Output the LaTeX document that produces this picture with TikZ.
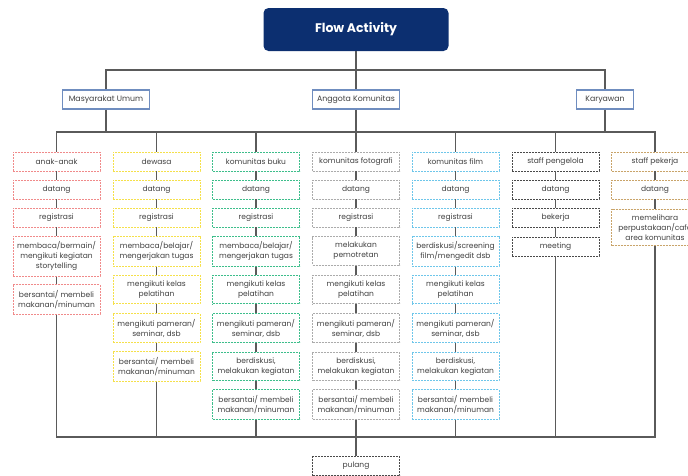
\documentclass[tikz,border=0pt]{standalone}
\usepackage{fontspec}
\setmainfont{Poppins}
\definecolor{navy}{HTML}{0C2F70}
\definecolor{grpb}{HTML}{6F8DBF}
\definecolor{lineg}{HTML}{5A5A5A}
\definecolor{txt}{HTML}{404040}
\definecolor{redd}{HTML}{F08A8A}
\definecolor{yel}{HTML}{F5E04A}
\definecolor{grn}{HTML}{3DBE8B}
\definecolor{gry}{HTML}{ABABAB}
\definecolor{blu}{HTML}{6EC6EA}
\definecolor{drk}{HTML}{4A4A4A}
\definecolor{tan}{HTML}{C9A46A}
\begin{document}
\begin{tikzpicture}[x=1pt,y=-1pt]
\tikzset{st/.style={rectangle,fill=white,line width=0.9pt,dash pattern=on 2pt off 1pt,minimum width=87pt,minimum height=19pt,inner xsep=1pt,inner ysep=5.5pt,align=center,text=txt,font=\fontsize{7.5}{10}\selectfont},
grp/.style={rectangle,draw=grpb,line width=1.2pt,fill=white,minimum width=87pt,minimum height=19pt,inner ysep=2pt,text=txt,font=\fontsize{7.8}{9}\selectfont},
ln/.style={draw=lineg,line width=1.2pt}}
\useasboundingbox (0,0) rectangle (688,475);
\clip (0,0) rectangle (688,475);
% top
\node (head) at (356,29.5) [rectangle,rounded corners=5pt,fill=navy,minimum width=185pt,minimum height=43pt,text=white,font=\fontsize{12.5}{14}\selectfont\bfseries] {Flow Activity};
\node (mu) at (106,99.5) [grp] {Masyarakat Umum};
\node (ak) at (356,99.5) [grp] {Anggota Komunitas};
\node (kw) at (605,99.5) [grp,minimum width=57pt] {Karyawan};
% masyarakat umum
\node (a1) at (56.5,161.5) [st,draw=redd] {anak-anak};
\node (a2) at (56.5,189.5) [st,draw=redd] {datang};
\node (a3) at (56.5,217.5) [st,draw=redd] {registrasi};
\node (a4) at (56.5,256) [st,draw=redd] {membaca/bermain/\\mengikuti kegiatan\\storytelling};
\node (a5) at (56.5,299.5) [st,draw=redd] {bersantai/ membeli\\makanan/minuman};
\node (b1) at (156.5,161.5) [st,draw=yel] {dewasa};
\node (b2) at (156.5,189.5) [st,draw=yel] {datang};
\node (b3) at (156.5,217.5) [st,draw=yel] {registrasi};
\node (b4) at (156.5,251) [st,draw=yel] {membaca/belajar/\\mengerjakan tugas};
\node (b5) at (156.5,289.5) [st,draw=yel] {mengikuti kelas\\pelatihan};
\node (b6) at (156.5,328) [st,draw=yel] {mengikuti pameran/\\seminar, dsb};
\node (b7) at (156.5,366.5) [st,draw=yel] {bersantai/ membeli\\makanan/minuman};
% anggota komunitas
\node (c1) at (256,161.5) [st,draw=grn] {komunitas buku};
\node (c2) at (256,189.5) [st,draw=grn] {datang};
\node (c3) at (256,217.5) [st,draw=grn] {registrasi};
\node (c4) at (256,251) [st,draw=grn] {membaca/belajar/\\mengerjakan tugas};
\node (c5) at (256,289.5) [st,draw=grn] {mengikuti kelas\\pelatihan};
\node (c6) at (256,328) [st,draw=grn] {mengikuti pameran/\\seminar, dsb};
\node (c7) at (256,366.5) [st,draw=grn] {berdiskusi,\\melakukan kegiatan};
\node (c8) at (256,404.5) [st,draw=grn] {bersantai/ membeli\\makanan/minuman};
\node (d1) at (356,161.5) [st,draw=gry] {komunitas fotografi};
\node (d2) at (356,189.5) [st,draw=gry] {datang};
\node (d3) at (356,217.5) [st,draw=gry] {registrasi};
\node (d4) at (356,251) [st,draw=gry] {melakukan\\pemotretan};
\node (d5) at (356,289.5) [st,draw=gry] {mengikuti kelas\\pelatihan};
\node (d6) at (356,328) [st,draw=gry] {mengikuti pameran/\\seminar, dsb};
\node (d7) at (356,366.5) [st,draw=gry] {berdiskusi,\\melakukan kegiatan};
\node (d8) at (356,404.5) [st,draw=gry] {bersantai/ membeli\\makanan/minuman};
\node (e1) at (455.5,161.5) [st,draw=blu] {komunitas film};
\node (e2) at (455.5,189.5) [st,draw=blu] {datang};
\node (e3) at (455.5,217.5) [st,draw=blu] {registrasi};
\node (e4) at (455.5,251) [st,draw=blu] {berdiskusi/screening\\film/mengedit dsb};
\node (e5) at (455.5,289.5) [st,draw=blu] {mengikuti kelas\\pelatihan};
\node (e6) at (455.5,328) [st,draw=blu] {mengikuti pameran/\\seminar, dsb};
\node (e7) at (455.5,366.5) [st,draw=blu] {berdiskusi,\\melakukan kegiatan};
\node (e8) at (455.5,404.5) [st,draw=blu] {bersantai/ membeli\\makanan/minuman};
% karyawan
\node (f1) at (555.5,161.5) [st,draw=drk] {staff pengelola};
\node (f2) at (555.5,189.5) [st,draw=drk] {datang};
\node (f3) at (555.5,217.5) [st,draw=drk] {bekerja};
\node (f4) at (555.5,246.5) [st,draw=drk] {meeting};
\node (g1) at (655,161.5) [st,draw=tan] {staff pekerja};
\node (g2) at (655,189.5) [st,draw=tan] {datang};
\node (g3) at (655,227.5) [st,draw=tan] {memelihara\\perpustakaan/cafe\\area komunitas};
\node (pul) at (356,466) [st,draw=drk] {pulang};
% lines
\coordinate (t) at (356,70);
\coordinate (m) at (356,132);
\coordinate (l) at (356,437);
\draw[ln] (head) -- (ak) -- (m);
\draw[ln] (mu) |- (t) -| (kw);
\draw[ln] (mu) -- (mu |- m) (kw) -- (kw |- m);
\draw[ln] (a1) |- (m) -| (g1);
\foreach \n in {b1,c1,d1,e1,f1} \draw[ln] (\n) -- (\n |- m);
\draw[ln] (a1)--(a2)--(a3)--(a4)--(a5);
\draw[ln] (b1)--(b2)--(b3)--(b4)--(b5)--(b6)--(b7);
\draw[ln] (c1)--(c2)--(c3)--(c4)--(c5)--(c6)--(c7)--(c8);
\draw[ln] (d1)--(d2)--(d3)--(d4)--(d5)--(d6)--(d7)--(d8);
\draw[ln] (e1)--(e2)--(e3)--(e4)--(e5)--(e6)--(e7)--(e8);
\draw[ln] (f1)--(f2)--(f3)--(f4) (g1)--(g2)--(g3);
\draw[ln] (a5) |- (l) -| (g3);
\foreach \n in {b7,c8,e8,f4} \draw[ln] (\n) -- (\n |- l);
\draw[ln] (d8) -- (pul);
\end{tikzpicture}
\end{document}
